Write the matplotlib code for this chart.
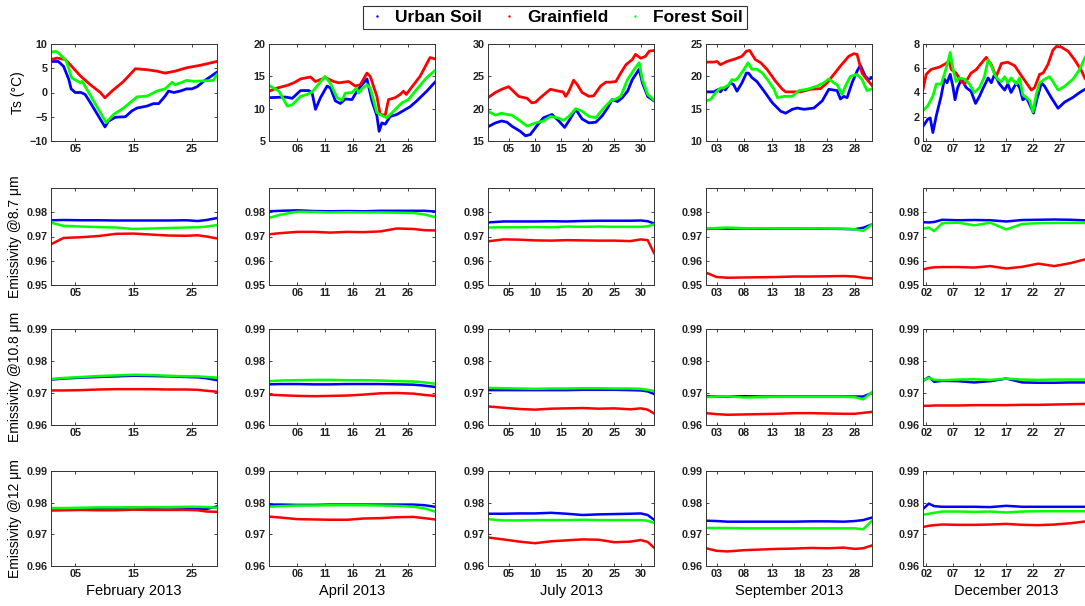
import matplotlib
matplotlib.use("Agg")
import matplotlib.pyplot as plt
from matplotlib.lines import Line2D

plt.rcParams['font.family'] = ['Liberation Sans', 'DejaVu Sans']

# ---- labels / axes setup ----
months = ['February 2013', 'April 2013', 'July 2013', 'September 2013', 'December 2013']
soils = ['Urban Soil', 'Grainfield', 'Forest Soil']
colors = ['#0000ff', '#ff0000', '#00ff00']
row_labels = ['Ts (\u00b0C)', 'Emissivity @8.7 \u03bcm', 'Emissivity @10.8 \u03bcm', 'Emissivity @12 \u03bcm']
xlims = [(0.85, 29.3), (0.9, 30.9), (1.1, 32.5), (1.1, 31.1), (1.4, 32.5)]
xticks = [[5, 15, 25], [6, 11, 16, 21, 26], [5, 10, 15, 20, 25, 30],
          [3, 8, 13, 18, 23, 28], [2, 7, 12, 17, 22, 27]]
ts_ylims = [(-10, 10), (5, 20), (15, 30), (10, 25), (0, 8)]
ts_yticks = [[-10, -5, 0, 5, 10], [5, 10, 15, 20], [15, 20, 25, 30], [10, 15, 20, 25], [0, 2, 4, 6, 8]]

# ---- surface temperature (day of month, value) ----
feb_ts_urban_d = [0.85, 2.1, 3, 3.9, 4.3, 5, 6, 6.7, 7.6, 10.1, 10.7, 11.9, 13.6, 14.7, 15.6, 17.3, 18.4,
                  19.3, 20.4, 21, 21.9, 23, 24.1, 25, 25.9, 27, 28.1, 29.3]
feb_ts_urban = [6.4, 6.4, 5.4, 2.7, 0.75, 0, 0, -0.4, -2.1, -7.1, -5.9, -5.1, -5.0, -3.8, -3.2, -2.8, -2.3,
                -2.3, -0.75, 0.3, 0, 0.3, 0.75, 0.75, 1.2, 2.3, 3.2, 4.2]
feb_ts_grain_d = [0.85, 1.9, 3.3, 4.4, 5.9, 7.6, 9.3, 10.1, 11.3, 13.3, 15.3, 17.3, 19, 20.4, 22.1, 24.1, 26.4, 29.3]
feb_ts_grain = [6.8, 7.1, 6.8, 5.4, 3.4, 1.6, 0, -1.1, 0.3, 2.3, 4.9, 4.7, 4.4, 4.0, 4.4, 5.1, 5.6, 6.4]
feb_ts_forest_d = [0.85, 1.6, 2.1, 3, 3.5, 4.4, 5.9, 6.2, 10.3, 11.6, 13.3, 15.6, 17.3, 19, 20.4, 21.6, 22.1,
                   23.3, 24.1, 25.3, 28.7, 29.3]
feb_ts_forest = [8.3, 8.5, 8.2, 7.1, 6.4, 3.0, 2.0, 2.3, -6.2, -4.5, -3.2, -0.9, -0.75, 0.3, 0.75, 2.1, 1.6,
                 2.1, 2.5, 2.3, 2.5, 3.7]

apr_ts_urban_d = [0.9, 3.9, 5.1, 6.6, 8.1, 8.7, 9.3, 10.2, 11.4, 12, 12.9, 13.8, 14.7, 15.9, 16.8, 17.7, 18.6,
                  19.5, 20.4, 20.8, 21.3, 21.9, 22.8, 24, 25.2, 26.4, 27.6, 29.4, 30.9]
apr_ts_urban = [11.7, 11.8, 11.6, 12.8, 12.8, 12.4, 9.9, 11.7, 13.5, 13.2, 11.2, 10.8, 11.5, 11.4, 12.7, 13.7, 14.6,
                11.2, 8.9, 6.5, 7.8, 7.6, 8.8, 9.1, 9.7, 10.3, 11.2, 12.7, 14.1]
apr_ts_grain_d = [0.9, 2.4, 4.2, 5.4, 6.6, 8.4, 9.3, 11.1, 12.6, 13.5, 15.3, 16.5, 17.4, 18.6, 19.2, 20.4, 21,
                  21.9, 22.5, 23.7, 24.6, 25.2, 25.7, 26.4, 28.2, 30, 30.9]
apr_ts_grain = [12.7, 13.2, 13.6, 14.0, 14.6, 14.9, 14.2, 14.8, 14.2, 14.0, 14.2, 13.5, 13.7, 15.5, 15.0, 11.9, 9.1,
                9.0, 11.4, 11.7, 12.2, 12.7, 12.2, 13.0, 15.0, 17.9, 17.7]
apr_ts_forest_d = [0.9, 2.7, 4.2, 5.1, 6.6, 7.8, 8.7, 9.6, 11, 12, 13.2, 14.1, 14.7, 15.9, 16.7, 17.1, 17.7,
                   18.6, 19.2, 20.4, 21.6, 22.2, 23.4, 24.9, 26.1, 27.6, 29.4, 30.9]
apr_ts_forest = [13.6, 12.7, 10.4, 10.6, 11.9, 12.2, 12.6, 13.5, 15.0, 13.9, 11.7, 11.3, 12.4, 12.5, 13.2, 12.4, 13.1,
                 13.7, 13.2, 9.4, 8.8, 8.6, 9.6, 10.9, 11.4, 13.0, 14.8, 15.9]

jul_ts_urban_d = [1.1, 2.5, 3.7, 4.7, 5.6, 7.2, 8.2, 9.1, 10.4, 11.6, 13.2, 14.5, 15.6, 16.4, 17.7, 18.9, 20.2,
                  21.5, 22.7, 23.7, 24.6, 25.6, 26.5, 27.5, 28.4, 29.7, 30.3, 31.3, 32.5]
jul_ts_urban = [17.2, 17.8, 18.1, 17.9, 17.3, 16.5, 15.8, 16.0, 17.4, 18.6, 19.1, 18.1, 17.1, 18.1, 19.9, 18.4, 17.8,
                17.9, 18.9, 20.1, 21.4, 21.1, 21.7, 22.7, 24.5, 26.1, 24.0, 21.9, 21.2]
jul_ts_grain_d = [1.1, 2.5, 3.7, 5, 5.9, 6.9, 8.5, 9.4, 10.1, 11, 12.9, 14.5, 15.3, 15.8, 16.4, 17.3, 18, 18.9,
                  20.2, 21.1, 22.4, 23.4, 24.3, 25.3, 26.2, 27.2, 28.4, 29, 30, 30.9, 31.6, 32.5]
jul_ts_grain = [21.7, 22.5, 23.0, 23.4, 22.7, 21.9, 21.6, 20.9, 21.0, 21.7, 23.0, 22.7, 22.6, 21.9, 22.7, 24.4, 23.7,
                22.5, 21.9, 22.0, 23.5, 24.1, 24.1, 24.2, 25.5, 26.8, 27.6, 28.4, 27.8, 28.1, 28.9, 29.0]
jul_ts_forest_d = [1.1, 2.5, 3.7, 4.7, 5.6, 7.2, 8.5, 10.1, 11.6, 12.9, 14.2, 15.4, 16.4, 17.7, 18.9, 20.2, 21.5,
                   23, 24.3, 25.3, 26.2, 27.5, 28.7, 29.7, 30.3, 31.3, 32.5]
jul_ts_forest = [19.6, 19.0, 19.3, 19.1, 19.0, 18.1, 17.3, 17.8, 18.1, 18.8, 18.6, 18.2, 18.8, 20.0, 19.6, 18.8, 18.6,
                 20.1, 21.2, 21.5, 21.9, 24.5, 26.0, 27.1, 24.5, 22.2, 21.3]

sep_ts_urban_d = [1.1, 2.5, 3.4, 3.7, 4.3, 4.6, 5.5, 6.1, 6.7, 7.6, 8.4, 8.8, 9.4, 10.3, 11.6, 13.1, 14.6, 15.5,
                  16.7, 17.6, 18.8, 20.6, 22.1, 23.3, 24.8, 25.4, 26, 26.6, 27.5, 28.4, 29, 29.9, 30.5, 31.1]
sep_ts_urban = [17.6, 17.6, 18.0, 17.6, 18.2, 17.9, 19.0, 18.7, 17.7, 19.0, 20.5, 20.5, 19.8, 19.2, 17.7, 15.9, 14.6,
                14.3, 14.9, 15.1, 14.9, 15.1, 16.2, 18.0, 17.8, 16.5, 16.9, 16.7, 19.0, 20.8, 21.7, 20.0, 19.5, 19.8]
sep_ts_grain_d = [1.1, 2.5, 3.1, 3.7, 4.9, 6.4, 7.6, 8.4, 9, 10, 11, 12.2, 13.7, 14.9, 15.5, 18.2, 20, 21.8, 23,
                  24.2, 25.4, 26.9, 27.8, 28.4, 29.3, 30.2, 31.1]
sep_ts_grain = [22.2, 22.2, 22.3, 21.8, 22.3, 22.7, 23.1, 23.9, 24.0, 22.6, 22.1, 21.0, 19.2, 18.0, 17.6, 17.6, 18.0,
                18.1, 19.0, 20.3, 21.6, 23.1, 23.5, 23.4, 20.5, 19.5, 18.6]
sep_ts_forest_d = [1.1, 1.9, 2.8, 3.7, 4.3, 5.2, 5.8, 6.4, 6.9, 7.9, 8.7, 9.4, 10.3, 11.3, 12.2, 13.4, 14, 15.2,
                   16.7, 17.9, 19.4, 21.2, 22.4, 23.3, 24.2, 24.8, 25.7, 26.3, 27.2, 28.4, 29.3, 30.2, 31.1]
sep_ts_forest = [16.2, 16.4, 17.4, 18.2, 18.2, 18.7, 19.5, 19.4, 19.8, 21.0, 22.1, 21.1, 21.1, 20.5, 19.5, 18.0, 16.7,
                 16.9, 16.9, 17.8, 18.0, 18.5, 19.0, 19.6, 19.0, 18.7, 17.2, 18.5, 20.0, 20.3, 19.5, 17.8, 18.1]

dec_ts_urban_d = [1.4, 2.3, 2.75, 3.25, 3.9, 4.8, 5.4, 5.9, 6.5, 7, 7.4, 7.9, 8.6, 9.5, 10.4, 11.25, 12, 12.6,
                  13.6, 14.2, 14.8, 15.75, 16.7, 17.3, 17.9, 18.9, 19.5, 20.1, 20.75, 21.4, 22.1, 22.9, 23.6,
                  24.2, 25.4, 26.7, 27.9, 29.5, 30.75, 31.7, 32.5]
dec_ts_urban = [1.2, 1.8, 1.9, 0.7, 2.1, 3.7, 5.1, 4.8, 5.5, 4.5, 3.4, 4.4, 5.1, 4.4, 4.1, 3.1, 3.7, 4.3,
                5.2, 4.8, 5.5, 4.7, 4.2, 4.7, 4.0, 4.8, 4.4, 3.4, 3.6, 3.0, 2.3, 3.7, 4.8,
                4.5, 3.6, 2.7, 3.2, 3.6, 4.0, 4.25, 4.4]
dec_ts_grain_d = [1.4, 2, 2.9, 4.5, 5.75, 6.25, 6.7, 7.6, 8.6, 9.2, 10.4, 11.4, 12.3, 13.25, 14.2, 15.1, 16.1,
                  17.3, 18.6, 19.5, 20.75, 21.7, 22.3, 23.25, 23.9, 24.8, 25.75, 26.4, 27.3, 28.6, 29.8, 31.1,
                  31.7, 32.5]
dec_ts_grain = [4.25, 5.5, 5.9, 6.1, 6.4, 6.6, 5.9, 5.6, 4.9, 4.7, 5.6, 5.9, 6.4, 6.9, 6.3, 5.3, 6.4,
                6.5, 6.2, 5.6, 4.8, 4.2, 4.4, 5.5, 5.6, 6.3, 7.5, 7.8, 7.75, 7.4, 6.7, 5.8,
                5.2, 4.7]
dec_ts_forest_d = [1.4, 2.3, 3.25, 3.9, 4.8, 5.4, 6, 6.5, 7, 7.6, 8.25, 9.2, 10.1, 11, 12, 12.9, 13.6, 14.2,
                   14.8, 15.4, 16.1, 16.7, 17.3, 17.9, 18.9, 19.5, 20.1, 20.75, 21.4, 22, 22.6, 23.25, 24.2,
                   25.1, 25.75, 26.7, 27.9, 29.5, 30.75, 31.7, 32.5]
dec_ts_forest = [2.5, 2.9, 3.7, 4.7, 4.7, 5.5, 6.4, 7.3, 6.0, 4.9, 5.2, 5.1, 4.7, 4.0, 4.4, 5.3, 6.7, 6.2,
                 5.5, 5.1, 4.9, 5.3, 4.8, 5.2, 4.7, 5.2, 3.8, 3.6, 3.3, 2.4, 3.8, 4.8, 5.1,
                 5.3, 4.9, 4.2, 4.5, 5.1, 5.9, 6.85, 7.5]

# ---- emissivity (sample days per month, then values per soil) ----
feb_e_d = [0.85, 3, 6, 9, 12, 15, 18, 21, 24, 26, 27.5, 29.3]
feb_e87_urban = [0.9767, 0.9768, 0.9767, 0.9767, 0.9766, 0.9766, 0.9766, 0.9766, 0.9767, 0.9764, 0.9768, 0.9776]
feb_e87_grain = [0.9668, 0.9694, 0.9697, 0.9702, 0.9711, 0.9712, 0.9708, 0.9704, 0.9703, 0.9705, 0.9700, 0.9692]
feb_e87_forest = [0.9757, 0.9744, 0.9741, 0.9739, 0.9737, 0.9731, 0.9733, 0.9735, 0.9737, 0.9738, 0.9741, 0.9747]
feb_e108_urban = [0.9742, 0.9745, 0.9748, 0.9750, 0.9752, 0.9754, 0.9753, 0.9752, 0.9750, 0.9749, 0.9746, 0.9740]
feb_e108_grain = [0.9708, 0.9708, 0.9709, 0.9711, 0.9712, 0.9712, 0.9712, 0.9711, 0.9711, 0.9710, 0.9707, 0.9704]
feb_e108_forest = [0.9744, 0.9747, 0.9750, 0.9753, 0.9755, 0.9757, 0.9756, 0.9754, 0.9752, 0.9752, 0.9750, 0.9748]
feb_e12_urban = [0.9782, 0.9782, 0.9782, 0.9783, 0.9783, 0.9784, 0.9784, 0.9785, 0.9784, 0.9781, 0.9780, 0.9788]
feb_e12_grain = [0.9775, 0.9776, 0.9777, 0.9776, 0.9776, 0.9778, 0.9777, 0.9777, 0.9777, 0.9776, 0.9772, 0.9771]
feb_e12_forest = [0.9783, 0.9783, 0.9784, 0.9785, 0.9785, 0.9785, 0.9786, 0.9786, 0.9787, 0.9787, 0.9786, 0.9784]

apr_e_d = [0.9, 3, 6, 9, 12, 15, 18, 21, 24, 27, 29, 30.9]
apr_e87_urban = [0.9804, 0.9806, 0.9808, 0.9805, 0.9804, 0.9805, 0.9804, 0.9806, 0.9806, 0.9806, 0.9806, 0.9803]
apr_e87_grain = [0.9709, 0.9714, 0.9719, 0.9719, 0.9716, 0.9719, 0.9718, 0.9721, 0.9733, 0.9731, 0.9726, 0.9725]
apr_e87_forest = [0.9777, 0.9790, 0.9802, 0.9801, 0.9799, 0.9800, 0.9799, 0.9799, 0.9798, 0.9797, 0.9791, 0.9780]
apr_e108_urban = [0.9727, 0.9728, 0.9728, 0.9727, 0.9727, 0.9728, 0.9728, 0.9728, 0.9727, 0.9726, 0.9723, 0.9719]
apr_e108_grain = [0.9695, 0.9693, 0.9691, 0.9690, 0.9691, 0.9692, 0.9695, 0.9699, 0.9700, 0.9698, 0.9694, 0.9691]
apr_e108_forest = [0.9737, 0.9739, 0.9740, 0.9741, 0.9741, 0.9740, 0.9740, 0.9739, 0.9737, 0.9736, 0.9733, 0.9729]
apr_e12_urban = [0.9794, 0.9794, 0.9793, 0.9793, 0.9794, 0.9794, 0.9794, 0.9794, 0.9794, 0.9794, 0.9792, 0.9787]
apr_e12_grain = [0.9756, 0.9753, 0.9748, 0.9747, 0.9746, 0.9746, 0.9750, 0.9751, 0.9754, 0.9755, 0.9751, 0.9747]
apr_e12_forest = [0.9787, 0.9789, 0.9791, 0.9791, 0.9792, 0.9792, 0.9792, 0.9791, 0.9790, 0.9787, 0.9782, 0.9772]

jul_e_d = [1.1, 4, 7, 10, 13, 16, 19, 22, 25, 28, 30, 31.3, 32.5]
jul_e87_urban = [0.9758, 0.9762, 0.9762, 0.9762, 0.9763, 0.9762, 0.9764, 0.9765, 0.9765, 0.9765, 0.9766, 0.9763, 0.9754]
jul_e87_grain = [0.9680, 0.9688, 0.9687, 0.9684, 0.9683, 0.9685, 0.9684, 0.9683, 0.9683, 0.9681, 0.9688, 0.9685, 0.9632]
jul_e87_forest = [0.9737, 0.9738, 0.9738, 0.9739, 0.9738, 0.9741, 0.9740, 0.9741, 0.9740, 0.9740, 0.9740, 0.9742, 0.9750]
jul_e108_urban = [0.9709, 0.9709, 0.9709, 0.9709, 0.9709, 0.9709, 0.9710, 0.9710, 0.9710, 0.9709, 0.9708, 0.9705, 0.9697]
jul_e108_grain = [0.9658, 0.9654, 0.9650, 0.9648, 0.9651, 0.9652, 0.9653, 0.9651, 0.9652, 0.9649, 0.9652, 0.9648, 0.9636]
jul_e108_forest = [0.9716, 0.9715, 0.9714, 0.9713, 0.9714, 0.9714, 0.9715, 0.9715, 0.9714, 0.9714, 0.9713, 0.9710, 0.9706]
jul_e12_urban = [0.9765, 0.9765, 0.9766, 0.9766, 0.9768, 0.9765, 0.9761, 0.9763, 0.9764, 0.9765, 0.9766, 0.9761, 0.9746]
jul_e12_grain = [0.9690, 0.9684, 0.9677, 0.9672, 0.9678, 0.9681, 0.9684, 0.9683, 0.9675, 0.9677, 0.9682, 0.9676, 0.9658]
jul_e12_forest = [0.9748, 0.9744, 0.9744, 0.9745, 0.9745, 0.9745, 0.9746, 0.9745, 0.9745, 0.9745, 0.9745, 0.9743, 0.9736]

sep_e_d = [1.1, 3, 5, 8, 11, 14, 17, 20, 23, 26, 28, 29.5, 31.1]
sep_e87_urban = [0.9731, 0.9733, 0.9732, 0.9733, 0.9732, 0.9732, 0.9732, 0.9733, 0.9732, 0.9731, 0.9730, 0.9736, 0.9750]
sep_e87_grain = [0.9551, 0.9533, 0.9530, 0.9531, 0.9532, 0.9533, 0.9535, 0.9535, 0.9536, 0.9537, 0.9535, 0.9530, 0.9527]
sep_e87_forest = [0.9733, 0.9735, 0.9737, 0.9734, 0.9734, 0.9733, 0.9733, 0.9734, 0.9733, 0.9732, 0.9730, 0.9723, 0.9750]
sep_e108_urban = [0.9690, 0.9689, 0.9689, 0.9690, 0.9689, 0.9689, 0.9689, 0.9689, 0.9689, 0.9689, 0.9689, 0.9689, 0.9700]
sep_e108_grain = [0.9637, 0.9634, 0.9632, 0.9633, 0.9634, 0.9635, 0.9637, 0.9637, 0.9636, 0.9635, 0.9635, 0.9638, 0.9641]
sep_e108_forest = [0.9687, 0.9689, 0.9690, 0.9686, 0.9687, 0.9688, 0.9688, 0.9688, 0.9688, 0.9688, 0.9687, 0.9680, 0.9703]
sep_e12_urban = [0.9743, 0.9742, 0.9740, 0.9740, 0.9740, 0.9740, 0.9740, 0.9741, 0.9741, 0.9740, 0.9742, 0.9745, 0.9753]
sep_e12_grain = [0.9656, 0.9648, 0.9646, 0.9650, 0.9652, 0.9654, 0.9655, 0.9657, 0.9656, 0.9658, 0.9654, 0.9656, 0.9665]
sep_e12_forest = [0.9720, 0.9720, 0.9720, 0.9719, 0.9719, 0.9719, 0.9719, 0.9719, 0.9719, 0.9719, 0.9719, 0.9716, 0.9743]

dec_e_d = [1.4, 2.5, 3.5, 5, 8, 11, 14, 17, 20, 23, 26, 29, 32.5]
dec_e87_urban = [0.9759, 0.9758, 0.9760, 0.9769, 0.9767, 0.9768, 0.9767, 0.9762, 0.9768, 0.9769, 0.9770, 0.9769, 0.9766]
dec_e87_grain = [0.9564, 0.9570, 0.9573, 0.9574, 0.9574, 0.9572, 0.9578, 0.9568, 0.9575, 0.9588, 0.9578, 0.9590, 0.9610]
dec_e87_forest = [0.9732, 0.9737, 0.9722, 0.9755, 0.9757, 0.9746, 0.9757, 0.9729, 0.9752, 0.9755, 0.9756, 0.9756, 0.9756]
dec_e108_urban = [0.9738, 0.9750, 0.9735, 0.9738, 0.9737, 0.9733, 0.9737, 0.9745, 0.9733, 0.9732, 0.9732, 0.9733, 0.9733]
dec_e108_grain = [0.9660, 0.9660, 0.9661, 0.9661, 0.9661, 0.9662, 0.9662, 0.9662, 0.9663, 0.9663, 0.9664, 0.9665, 0.9666]
dec_e108_forest = [0.9738, 0.9748, 0.9741, 0.9740, 0.9742, 0.9743, 0.9741, 0.9745, 0.9742, 0.9741, 0.9742, 0.9742, 0.9742]
dec_e12_urban = [0.9780, 0.9797, 0.9789, 0.9787, 0.9787, 0.9787, 0.9786, 0.9790, 0.9787, 0.9787, 0.9787, 0.9787, 0.9787]
dec_e12_grain = [0.9723, 0.9727, 0.9729, 0.9731, 0.9730, 0.9730, 0.9731, 0.9733, 0.9730, 0.9729, 0.9731, 0.9735, 0.9742]
dec_e12_forest = [0.9762, 0.9765, 0.9768, 0.9772, 0.9772, 0.9771, 0.9772, 0.9769, 0.9772, 0.9773, 0.9773, 0.9773, 0.9773]

ts = [
    [(feb_ts_urban_d, feb_ts_urban), (feb_ts_grain_d, feb_ts_grain), (feb_ts_forest_d, feb_ts_forest)],
    [(apr_ts_urban_d, apr_ts_urban), (apr_ts_grain_d, apr_ts_grain), (apr_ts_forest_d, apr_ts_forest)],
    [(jul_ts_urban_d, jul_ts_urban), (jul_ts_grain_d, jul_ts_grain), (jul_ts_forest_d, jul_ts_forest)],
    [(sep_ts_urban_d, sep_ts_urban), (sep_ts_grain_d, sep_ts_grain), (sep_ts_forest_d, sep_ts_forest)],
    [(dec_ts_urban_d, dec_ts_urban), (dec_ts_grain_d, dec_ts_grain), (dec_ts_forest_d, dec_ts_forest)],
]
e_days = [feb_e_d, apr_e_d, jul_e_d, sep_e_d, dec_e_d]
emis = [
    [[feb_e87_urban, feb_e87_grain, feb_e87_forest], [feb_e108_urban, feb_e108_grain, feb_e108_forest],
     [feb_e12_urban, feb_e12_grain, feb_e12_forest]],
    [[apr_e87_urban, apr_e87_grain, apr_e87_forest], [apr_e108_urban, apr_e108_grain, apr_e108_forest],
     [apr_e12_urban, apr_e12_grain, apr_e12_forest]],
    [[jul_e87_urban, jul_e87_grain, jul_e87_forest], [jul_e108_urban, jul_e108_grain, jul_e108_forest],
     [jul_e12_urban, jul_e12_grain, jul_e12_forest]],
    [[sep_e87_urban, sep_e87_grain, sep_e87_forest], [sep_e108_urban, sep_e108_grain, sep_e108_forest],
     [sep_e12_urban, sep_e12_grain, sep_e12_forest]],
    [[dec_e87_urban, dec_e87_grain, dec_e87_forest], [dec_e108_urban, dec_e108_grain, dec_e108_forest],
     [dec_e12_urban, dec_e12_grain, dec_e12_forest]],
]

W, H = 1085, 606
fig = plt.figure(figsize=(W / 100, H / 100), dpi=100)

col_left = [51, 269, 488, 706, 923]
row_top = [44, 188, 329, 471]
row_h = [97, 97, 96, 95]
ax_w = 166

for c in range(5):
    for r in range(4):
        ax = fig.add_axes([col_left[c] / W, 1 - (row_top[r] + row_h[r]) / H, ax_w / W, row_h[r] / H])
        if r == 0:
            for (d, v), col in zip(ts[c], colors):
                ax.plot(d, v, color=col, lw=2.0)
            ax.set_ylim(ts_ylims[c])
            ax.set_yticks(ts_yticks[c])
        else:
            for v, col in zip(emis[c][r - 1], colors):
                ax.plot(e_days[c], v, color=col, lw=1.8)
            if r == 1:
                ax.set_ylim(0.95, 0.99)
                ax.set_yticks([0.95, 0.96, 0.97, 0.98])
            else:
                ax.set_ylim(0.96, 0.99)
                ax.set_yticks([0.96, 0.97, 0.98, 0.99])
            ax.set_yticklabels(['%.2f' % t for t in ax.get_yticks()])
        ax.set_xlim(xlims[c])
        ax.set_xticks(xticks[c])
        ax.set_xticklabels(['%02d' % t for t in xticks[c]])
        ax.tick_params(direction='in', length=2.5, width=0.6, top=True, right=True,
                       labelsize=7.8, pad=2.5, colors='#222222')
        for lab in ax.get_xticklabels() + ax.get_yticklabels():
            lab.set_fontweight('bold')
        for s in ax.spines.values():
            s.set_color('#333333')
            s.set_linewidth(0.7)
        if c == 0:
            ax.set_ylabel(row_labels[r], fontsize=10, labelpad=3)
        if r == 3:
            ax.set_xlabel(months[c], fontsize=10.5, labelpad=3)

handles = [Line2D([], [], ls='none', marker='.', ms=1.5, color=col) for col in colors]
leg = fig.legend(handles, soils, ncol=3, loc='center', bbox_to_anchor=(555 / W, 1 - 17.5 / H),
                 prop=dict(weight='bold', size=12.5), frameon=True, fancybox=False,
                 edgecolor='#333333', framealpha=1, handlelength=1.1, handletextpad=0.5,
                 columnspacing=1.0, borderpad=0.25)
leg.get_frame().set_linewidth(0.8)

fig.savefig('out.png', dpi=100)
